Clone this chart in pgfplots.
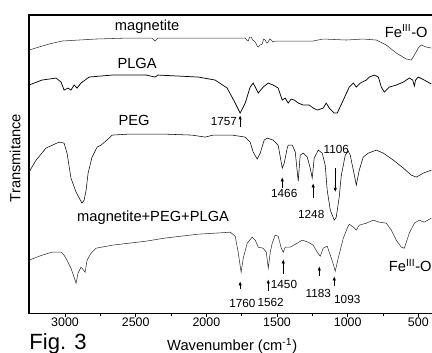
\documentclass[border=0pt]{standalone}
\usepackage{fontspec}
\setmainfont{Liberation Sans}
\usepackage{pgfplots}
\pgfplotsset{compat=1.18}
\usetikzlibrary{arrows.meta}
\definecolor{spec}{HTML}{303030}
\begin{document}
\begin{tikzpicture}
\begin{axis}[
  scale only axis, width=302.25pt, height=223.5pt,
  at={(0,0)}, anchor=south west,
  x dir=reverse, xmin=401, xmax=3255, ymin=0, ymax=298,
  xtick={500,1000,1500,2000,2500,3000}, minor x tick num=1,
  xtick pos=bottom, ytick=\empty,
  tick align=outside, major tick length=3pt, minor tick length=1.8pt,
  axis line style={line width=0.9pt}, every tick/.style={line width=0.7pt, black},
  /pgf/number format/1000 sep={}, /pgf/number format/assume math mode=true,
  tick label style={font=\fontsize{9.3}{10}\selectfont},
  xticklabel style={yshift=3pt},
  cycle list={{spec, line width=0.55pt, no marks}},
]
% magnetite
\addplot coordinates {(3255,263)(3113,269)(3021,272)(2901,273)(2780,274)(2547,275)(2384,275)(2363,272)(2342,275)(2299,275)(1725,275)(1715,273)(1704,272)(1694,276)(1683,276)(1672,273)(1661,272)(1650,270)(1640,267)(1633,266)(1620,268)(1605,269)(1595,274)(1584,273)(1573,270)(1562,271)(1552,274)(1541,273)(1530,271)(1513,272)(1336,272)(1244,272)(1173,274)(1010,273)(890,274)(798,273)(727,268)(656,260)(585,254)(550,253)(528,258)(500,265)(479,268)(444,266)(408,265)};
% PLGA
\addplot coordinates {(3255,228)(3163,233)(3064,235)(3028,231)(3007,223)(2979,225)(2958,223)(2936,228)(2915,225)(2887,230)(2830,236)(2667,238)(2426,238)(2363,236)(2342,238)(2058,236)(1938,233)(1853,225)(1796,210)(1761,200)(1725,210)(1690,226)(1669,230)(1654,226)(1633,220)(1598,226)(1562,230)(1527,228)(1492,225)(1463,213)(1442,215)(1421,210)(1400,214)(1378,213)(1350,210)(1314,208)(1272,208)(1244,205)(1215,203)(1173,205)(1152,210)(1130,205)(1095,200)(1074,200)(1031,213)(989,226)(960,230)(939,226)(911,230)(868,233)(847,236)(812,238)(783,236)(762,226)(741,221)(705,226)(656,228)(606,231)(564,235)(540,233)(528,227)(520,233)(500,236)(458,233)(408,229)};
% PEG
\addplot coordinates {(3255,141)(3205,153)(3135,165)(3042,171)(3007,170)(2986,160)(2958,135)(2922,121)(2880,110)(2865,113)(2851,123)(2837,140)(2809,156)(2773,166)(2745,168)(2688,175)(2667,178)(2547,179)(2356,179)(2299,179)(2101,178)(2009,176)(1952,178)(1817,178)(1725,176)(1690,171)(1669,161)(1640,154)(1619,160)(1591,173)(1569,175)(1527,173)(1492,168)(1463,145)(1449,150)(1428,165)(1421,168)(1392,168)(1371,161)(1350,132)(1336,158)(1314,160)(1286,156)(1265,145)(1251,135)(1237,155)(1208,163)(1180,160)(1159,148)(1145,123)(1123,103)(1095,93)(1081,96)(1060,116)(1045,138)(1017,158)(996,162)(982,158)(960,143)(939,128)(918,143)(890,156)(854,160)(798,163)(748,160)(677,153)(606,145)(550,138)(514,136)(465,140)(408,143)};
% magnetite+PEG+PLGA
\addplot coordinates {(3255,53)(3163,58)(3092,61)(3028,61)(3007,58)(2986,53)(2958,45)(2936,36)(2922,30)(2908,40)(2887,46)(2880,45)(2858,41)(2844,53)(2816,60)(2780,65)(2667,68)(2547,70)(2426,72)(2299,75)(2058,79)(1938,80)(1831,81)(1796,77)(1775,61)(1754,41)(1739,55)(1711,70)(1676,76)(1654,73)(1633,66)(1598,65)(1576,61)(1562,45)(1548,61)(1534,70)(1513,78)(1492,77)(1470,65)(1456,61)(1442,66)(1407,66)(1357,70)(1322,73)(1279,71)(1244,68)(1215,61)(1194,57)(1173,65)(1145,67)(1123,58)(1102,49)(1088,42)(1067,55)(1031,75)(1003,85)(989,89)(960,86)(939,83)(918,88)(868,90)(819,93)(776,91)(727,90)(691,83)(656,73)(620,66)(599,65)(564,80)(528,90)(493,93)(458,91)(408,95)};
% labels
\node[font=\fontsize{11}{12}\selectfont] at (axis cs:2419,286) {magnetite};
\node[font=\fontsize{11}{12}\selectfont] at (axis cs:2490,250) {PLGA};
\node[font=\fontsize{11}{12}\selectfont] at (axis cs:2511,193) {PEG};
\node[font=\fontsize{11}{12}\selectfont] at (axis cs:2377,95) {magnetite+PEG+PLGA};
\node[font=\fontsize{11}{12}\selectfont] at (axis cs:585,282) {Fe\textsuperscript{III}-O};
\node[font=\fontsize{11}{12}\selectfont] at (axis cs:557,48) {Fe\textsuperscript{III}-O};
% annotations
\tikzset{pk/.style={-{Latex[length=3.2pt,width=2.6pt]}, line width=0.6pt, black}}
\tikzset{lb/.style={font=\fontsize{8.8}{10}\selectfont, inner sep=0pt}}
\draw[pk] (axis cs:1761,186) -- (axis cs:1761,198);
\node[lb, anchor=east] at (axis cs:1782,192) {1757};
\draw[pk] (axis cs:1463,125) -- (axis cs:1463,136);
\node[lb] at (axis cs:1449,120) {1466};
\draw[pk] (axis cs:1244,115) -- (axis cs:1244,130);
\node[lb] at (axis cs:1258,99) {1248};
\draw[pk] (axis cs:1088,145) -- (axis cs:1088,121);
\node[lb] at (axis cs:1081,164) {1106};
\draw[pk] (axis cs:1761,24) -- (axis cs:1761,32);
\node[lb] at (axis cs:1745,10) {1760};
\draw[pk] (axis cs:1562,22) -- (axis cs:1562,34);
\node[lb] at (axis cs:1545,11) {1562};
\draw[pk] (axis cs:1456,39) -- (axis cs:1456,54);
\node[lb, anchor=west] at (axis cs:1545,29) {1450};
\draw[pk] (axis cs:1201,37) -- (axis cs:1201,47);
\node[lb] at (axis cs:1208,20) {1183};
\draw[pk] (axis cs:1095,27) -- (axis cs:1095,37);
\node[lb] at (axis cs:1003,14) {1093};
\end{axis}
\node[font=\fontsize{11}{12}\selectfont] at (152.25pt,-24.75pt) {Wavenumber (cm\textsuperscript{-1})};
\node[font=\fontsize{16.5}{18}\selectfont, inner sep=0pt, anchor=base] at (21.75pt,-27pt) {Fig. 3};
\node[font=\fontsize{11}{12}\selectfont, rotate=90] at (-10.5pt,116.25pt) {Transmitance};
\pgfresetboundingbox
\path[use as bounding box] (-21.75pt,-29.25pt) rectangle (302pt,234.75pt);
\end{tikzpicture}
\end{document}
